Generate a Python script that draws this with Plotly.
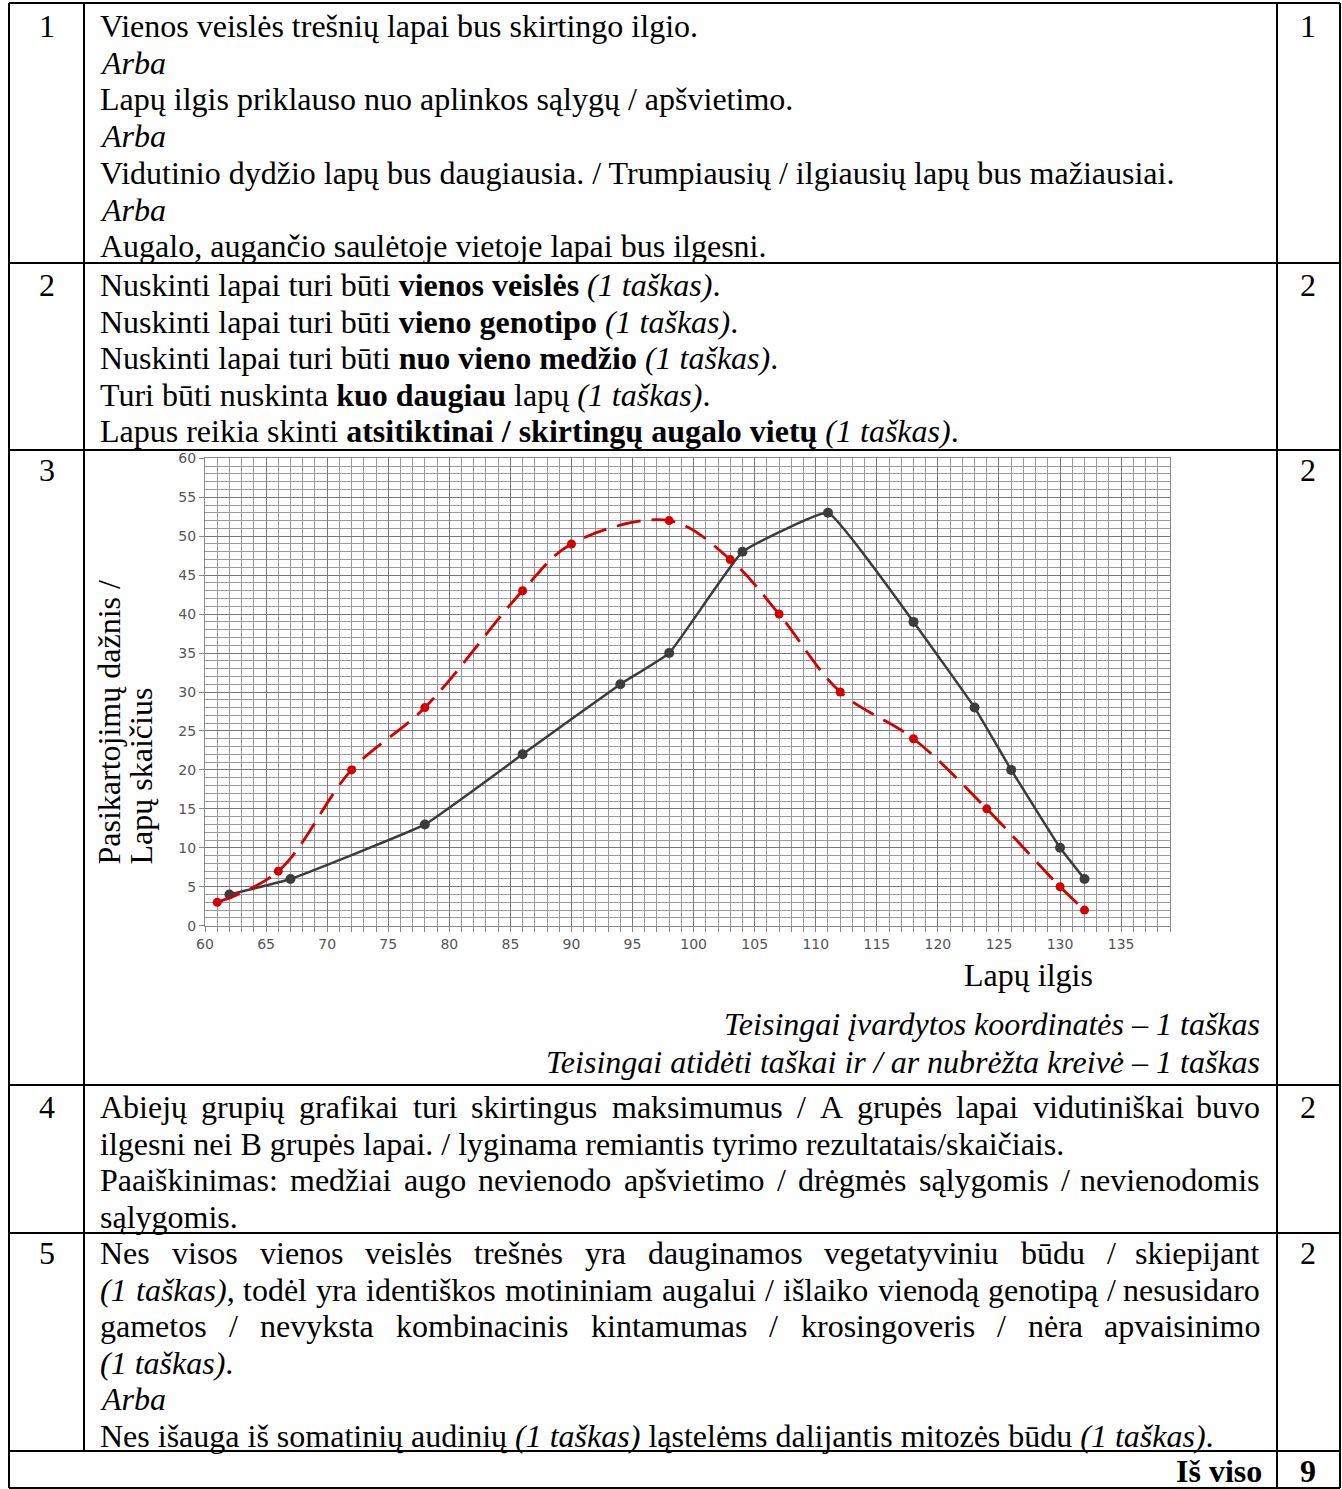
import unicodedata
import plotly.graph_objects as go

# ---------------- chart data ----------------
lengths_black = [62, 67, 78, 86, 94, 98, 104, 111, 118, 123, 126, 130, 132]
counts_black = [4, 6, 13, 22, 31, 35, 48, 53, 39, 28, 20, 10, 6]
lengths_red = [61, 66, 72, 78, 86, 90, 98, 103, 107, 112, 118, 124, 130, 132]
counts_red = [3, 7, 20, 28, 43, 49, 52, 47, 40, 30, 24, 15, 5, 2]
x_ticks = list(range(60, 136, 5))
y_ticks = list(range(0, 61, 5))
x_title = "Lapų ilgis"
y_title_1 = "Pasikartojimų dažnis /"
y_title_2 = "Lapų skaičius"

# ---------------- table text ----------------
row_numbers = ["1", "2", "3", "4", "5"]
row_points = ["1", "2", "2", "2", "2"]
total_label = "Iš viso"
total_points = "9"

row1_lines = [
    "Vienos veislės trešnių lapai bus skirtingo ilgio.",
    "<i>Arba</i>",
    "Lapų ilgis priklauso nuo aplinkos sąlygų / apšvietimo.",
    "<i>Arba</i>",
    "Vidutinio dydžio lapų bus daugiausia. / Trumpiausių / ilgiausių lapų bus mažiausiai.",
    "<i>Arba</i>",
    "Augalo, augančio saulėtoje vietoje lapai bus ilgesni.",
]
row2_lines = [
    "Nuskinti lapai turi būti <b>vienos veislės</b> <i>(1 taškas)</i>.",
    "Nuskinti lapai turi būti <b>vieno genotipo</b> <i>(1 taškas)</i>.",
    "Nuskinti lapai turi būti <b>nuo vieno medžio</b> <i>(1 taškas)</i>.",
    "Turi būti nuskinta <b>kuo daugiau</b> lapų <i>(1 taškas)</i>.",
    "Lapus reikia skinti <b>atsitiktinai / skirtingų augalo vietų</b> <i>(1 taškas)</i>.",
]
row3_notes = [
    "<i>Teisingai įvardytos koordinatės – 1 taškas</i>",
    "<i>Teisingai atidėti taškai ir / ar nubrėžta kreivė – 1 taškas</i>",
]
# (text, justified)
row4_lines = [
    ("Abiejų grupių grafikai turi skirtingus maksimumus / A grupės lapai vidutiniškai buvo", True),
    ("ilgesni nei B grupės lapai. / lyginama remiantis tyrimo rezultatais/skaičiais.", False),
    ("Paaiškinimas: medžiai augo nevienodo apšvietimo / drėgmės sąlygomis / nevienodomis", True),
    ("sąlygomis.", False),
]
row5_lines = [
    ("Nes visos vienos veislės trešnės yra dauginamos vegetatyviniu būdu / skiepijant", True),
    ("<i>(1 taškas)</i>, todėl yra identiškos motininiam augalui / išlaiko vienodą genotipą / nesusidaro", True),
    ("gametos / nevyksta kombinacinis kintamumas / krosingoveris / nėra apvaisinimo", True),
    ("<i>(1 taškas)</i>.", False),
    ("<i>Arba</i>", False),
    ("Nes išauga iš somatinių audinių <i>(1 taškas)</i> ląstelėms dalijantis mitozės būdu <i>(1 taškas)</i>.", False),
]

# ---------------- page geometry ----------------
W, H = 1342, 1489
FS = 32
SERIF = "Liberation Serif"
TEXT_L, TEXT_R = 99, 1261
NUM_X, PTS_X = 47, 1308


def px(x):
    return x / W


def py(y):
    return 1 - y / H


# Times metrics (per 1000 em) for justification
REG = dict(zip("abcdefghijklmnopqrstuvwxyz",
               [444, 500, 444, 500, 444, 333, 500, 500, 278, 278, 500, 278, 778,
                500, 500, 500, 500, 333, 389, 278, 500, 500, 722, 500, 500, 444]))
REG.update(dict(zip("ABCDEFGHIJKLMNOPQRSTUVWXYZ",
                    [722, 667, 667, 722, 611, 556, 722, 722, 333, 389, 722, 611, 889,
                     722, 722, 556, 722, 667, 556, 611, 722, 722, 944, 722, 722, 611])))
REG.update({" ": 250, "(": 333, ")": 333, ",": 250, ".": 250, "/": 278, ":": 278,
            "-": 333, "–": 500})
for d in "0123456789":
    REG[d] = 500
ITA = dict(REG)
ITA.update(dict(zip("abcdefghijklmnopqrstuvwxyz",
                    [500, 500, 444, 500, 444, 278, 500, 500, 278, 278, 444, 278, 722,
                     500, 500, 500, 500, 389, 389, 278, 500, 444, 667, 444, 444, 389])))


def base(ch):
    return unicodedata.normalize("NFD", ch)[0]


def parse(line):
    chars = []
    ital = False
    i = 0
    while i < len(line):
        if line.startswith("<i>", i):
            ital = True; i += 3; continue
        if line.startswith("</i>", i):
            ital = False; i += 4; continue
        chars.append((line[i], ital))
        i += 1
    return chars


def words_of(line):
    chars = parse(line)
    words, cur = [], []
    for ch, it in chars:
        if ch == " ":
            if cur:
                words.append(cur); cur = []
        else:
            cur.append((ch, it))
    if cur:
        words.append(cur)
    out = []
    for w in words:
        width = sum((ITA if it else REG).get(base(c), 500) for c, it in w) / 1000 * FS
        html, prev = "", None
        for c, it in w:
            if it != prev:
                if prev:
                    html += "</i>"
                if it:
                    html += "<i>"
                prev = it
            html += c
        if prev:
            html += "</i>"
        out.append((html, width))
    return out


annotations = []


def text(x, y, t, anchor="left", size=FS, color="black", angle=0, yanchor="middle",
         height=None):
    a = dict(x=px(x), y=py(y), xref="paper", yref="paper", text=t,
             showarrow=False, xanchor=anchor, yanchor=yanchor,
             textangle=angle, borderpad=0,
             font=dict(family=SERIF, size=size, color=color))
    if height is not None:
        a["height"] = height
        a["valign"] = "middle"
    annotations.append(a)


def justified(y, line):
    ws = words_of(line)
    total = sum(w for _, w in ws)
    gap = (TEXT_R - TEXT_L - total) / (len(ws) - 1)
    x = TEXT_L
    for k, (h, w) in enumerate(ws):
        if k == len(ws) - 1:
            text(TEXT_R, y, h, anchor="right")
        else:
            text(x, y, h)
        x += w + gap


# row numbers / points
row_y = [26, 285, 470, 1107, 1253]
for n, p, y in zip(row_numbers, row_points, row_y):
    text(NUM_X, y, n, anchor="center")
    text(PTS_X, y, p, anchor="center")

for k, t in enumerate(row1_lines):
    text(TEXT_L, 26 + k * 36.7, t)
for k, t in enumerate(row2_lines):
    text(TEXT_L, 285 + k * 36.6, t)
for k, t in enumerate(row3_notes):
    text(TEXT_R, 1024 + k * 38, t, anchor="right")
for k, (t, j) in enumerate(row4_lines):
    y = 1107 + k * 36.7
    justified(y, t) if j else text(TEXT_L, y, t)
for k, (t, j) in enumerate(row5_lines):
    y = 1253 + k * 36.5
    justified(y, t) if j else text(TEXT_L, y, t)

text(1263, 1471, "<b>" + total_label + "</b>", anchor="right", height=28)
text(PTS_X, 1471, "<b>" + total_points + "</b>", anchor="center", height=28)

# axis titles (page text, Times)
text(1028, 975, x_title, anchor="center")
text(108, 866, y_title_1, anchor="center", angle=-90, yanchor="bottom")
text(140, 866, y_title_2, anchor="center", angle=-90, yanchor="bottom")

# ---------------- table lines ----------------
shapes = []


def hline(x0, x1, y):
    shapes.append(dict(type="line", xref="paper", yref="paper", x0=px(x0), x1=px(x1),
                       y0=py(y), y1=py(y), line=dict(color="black", width=2)))


def vline(x, y0, y1):
    shapes.append(dict(type="line", xref="paper", yref="paper", x0=px(x), x1=px(x),
                       y0=py(y0), y1=py(y1), line=dict(color="black", width=2)))


L, C1, C2, R = 9, 84, 1277, 1340
TOP, BOT = 3, 1488
for y in [TOP, 263, 450, 1085, 1233, 1451, BOT]:
    hline(L, R, y)
vline(L, TOP, BOT)
vline(C1, TOP, 1451)
vline(C2, TOP, BOT)
vline(R, TOP, BOT)

# ---------------- chart ----------------
fig = go.Figure()
fig.add_trace(go.Scatter(x=lengths_black, y=counts_black, mode="lines+markers",
                         line=dict(color="#3c3c3c", width=2.5, shape="spline", smoothing=0.3),
                         marker=dict(color="#3c3c3c", size=10), showlegend=False))
fig.add_trace(go.Scatter(x=lengths_red, y=counts_red, mode="lines+markers",
                         line=dict(color="#d40000", width=2.8, dash="24px,11px",
                                   shape="spline", smoothing=1.0),
                         marker=dict(color="#d40000", size=9), showlegend=False))

tickfont = dict(family="DejaVu Sans", size=14, color="#555555")
fig.update_layout(
    width=W, height=H, margin=dict(l=0, r=0, t=0, b=0, autoexpand=False),
    paper_bgcolor="white", plot_bgcolor="white",
    xaxis=dict(domain=[px(205), px(1170)], range=[60, 139], tickvals=x_ticks,
               showgrid=True, gridcolor="#777777", gridwidth=1,
               minor=dict(dtick=1, tick0=60, showgrid=True, gridcolor="#9a9a9a",
                          gridwidth=1, ticks="outside", ticklen=5, tickcolor="#8a8a8a"),
               ticks="outside", ticklen=5, tickcolor="#8a8a8a",
               showline=True, linecolor="#8a8a8a", mirror=True, zeroline=False,
               tickfont=tickfont, anchor="y", fixedrange=True, automargin=False),
    yaxis=dict(domain=[py(925.7), py(458.3)], range=[0, 60], tickvals=y_ticks,
               showgrid=True, gridcolor="#777777", gridwidth=1,
               minor=dict(dtick=1, tick0=0, showgrid=True, gridcolor="#9a9a9a", gridwidth=1),
               ticks="outside", ticklen=5, tickcolor="#8a8a8a",
               showline=True, linecolor="#8a8a8a", mirror=True, zeroline=False,
               tickfont=tickfont, anchor="x", fixedrange=True, automargin=False),
    shapes=shapes, annotations=annotations,
)
fig.write_html("out.html", config={"displayModeBar": False},
               post_script="document.body.style.margin='0px';document.body.style.overflow='hidden';")
